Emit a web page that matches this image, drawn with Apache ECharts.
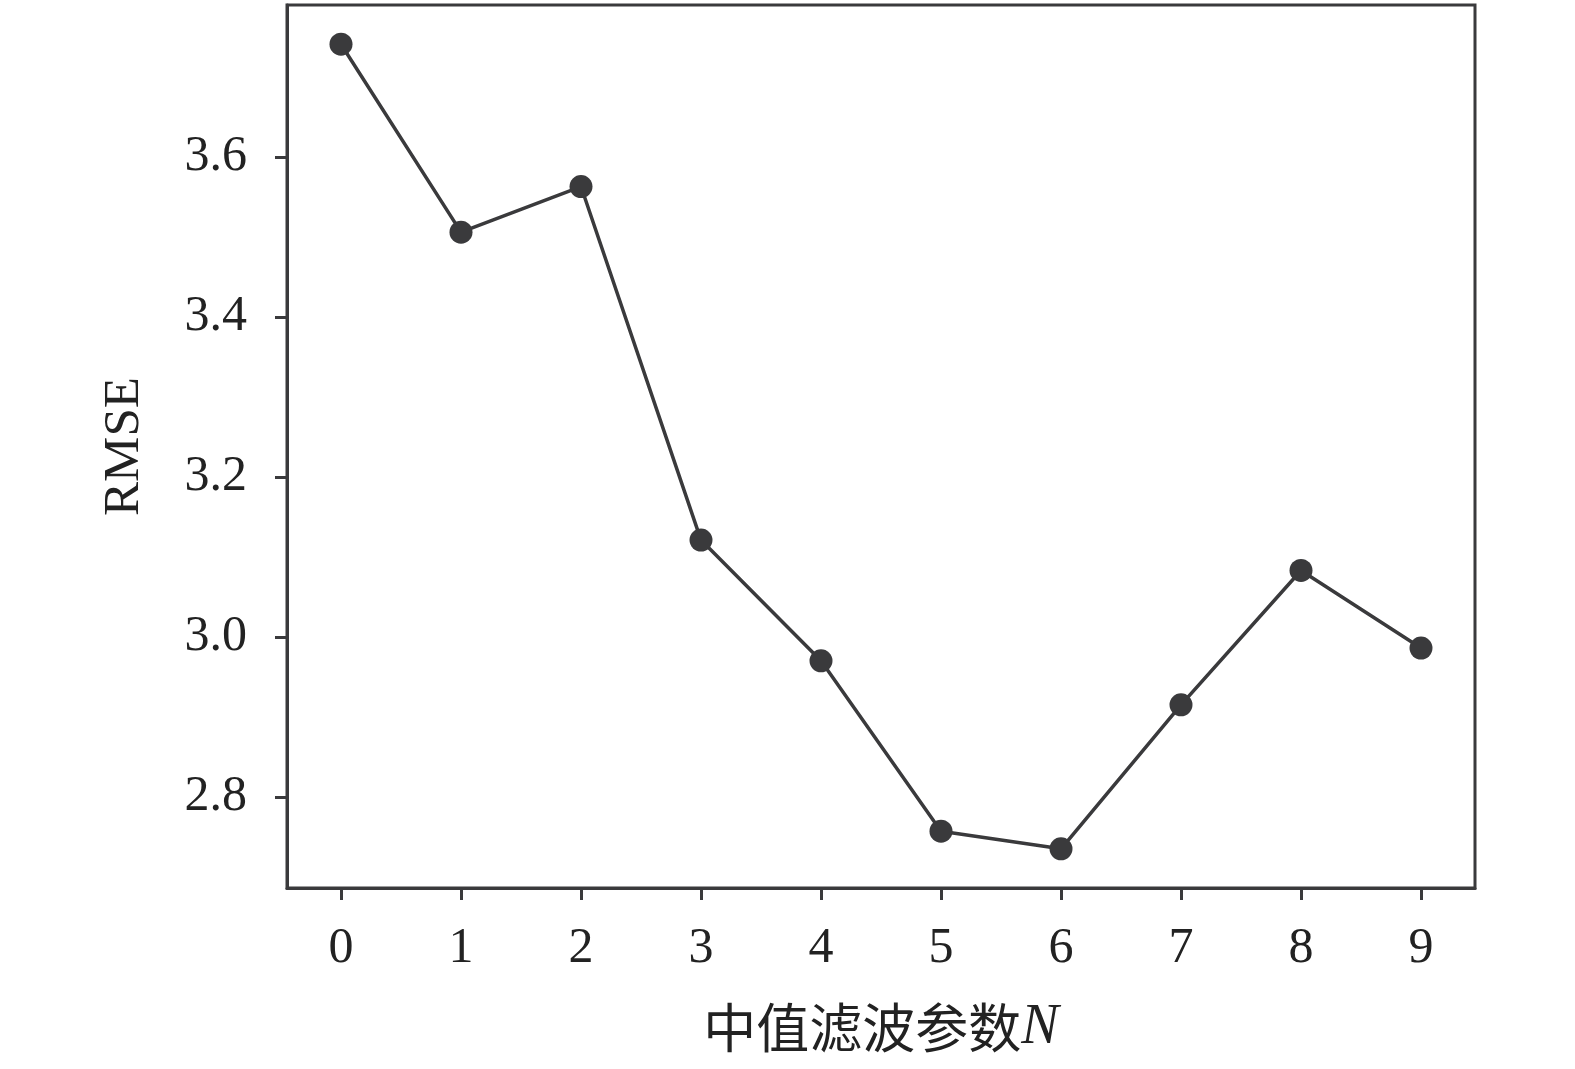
<!DOCTYPE html>
<html><head><meta charset="utf-8">
<script src="https://cdn.jsdelivr.net/npm/echarts@6/dist/echarts.min.js"></script>
<style>html,body{margin:0;padding:0;background:#fff}#c{width:1575px;height:1069px}</style>
</head><body><div id="c"></div>
<script>
const xValues = [0,1,2,3,4,5,6,7,8,9];
const rmse = [3.741,3.506,3.563,3.121,2.970,2.757,2.735,2.915,3.083,2.986];
const yTicks = [2.8,3.0,3.2,3.4,3.6];
const xTitle = '中值滤波参数';
const yTitle = 'RMSE';

const col = '#3a3a3c';
const serif = '"Liberation Serif","DejaVu Serif",serif';
const chart = echarts.init(document.getElementById('c'));
chart.setOption({
  backgroundColor:'#fff',
  animation:false,
  grid:{left:287,right:100,top:5,bottom:181,show:true,borderColor:col,borderWidth:3,backgroundColor:'transparent'},
  xAxis:{type:'value',min:-0.45,max:9.45,interval:1,
    axisLine:{show:true,onZero:false,lineStyle:{color:col,width:3}},
    axisTick:{show:true,length:12,lineStyle:{color:col,width:3},customValues:xValues},
    axisLabel:{color:'#222',fontFamily:serif,fontSize:50,margin:36,customValues:xValues,formatter:v=>String(v)},
    splitLine:{show:false},
    name:'{a|'+xTitle+'}{b|N}',nameLocation:'middle',nameGap:112,
    nameTextStyle:{rich:{a:{fontFamily:'"Noto Sans CJK SC",serif',fontSize:53,color:'#222'},b:{fontFamily:serif,fontStyle:'italic',fontSize:56,color:'#222'}}}
  },
  yAxis:{type:'value',min:2.686,max:3.79,
    axisLine:{show:true,onZero:false,lineStyle:{color:col,width:3}},
    axisTick:{show:true,length:12,lineStyle:{color:col,width:3},customValues:yTicks},
    axisLabel:{color:'#222',fontFamily:serif,fontSize:50,margin:40,customValues:yTicks,formatter:v=>v.toFixed(1)},
    splitLine:{show:false},
    name:yTitle,nameLocation:'middle',nameGap:137,
    nameTextStyle:{fontFamily:serif,fontSize:51,color:'#222'}
  },
  series:[{type:'line',data:xValues.map((x,i)=>[x,rmse[i]]),
    symbol:'circle',symbolSize:23,
    lineStyle:{color:col,width:3.5},itemStyle:{color:col}}]
});
</script></body></html>
